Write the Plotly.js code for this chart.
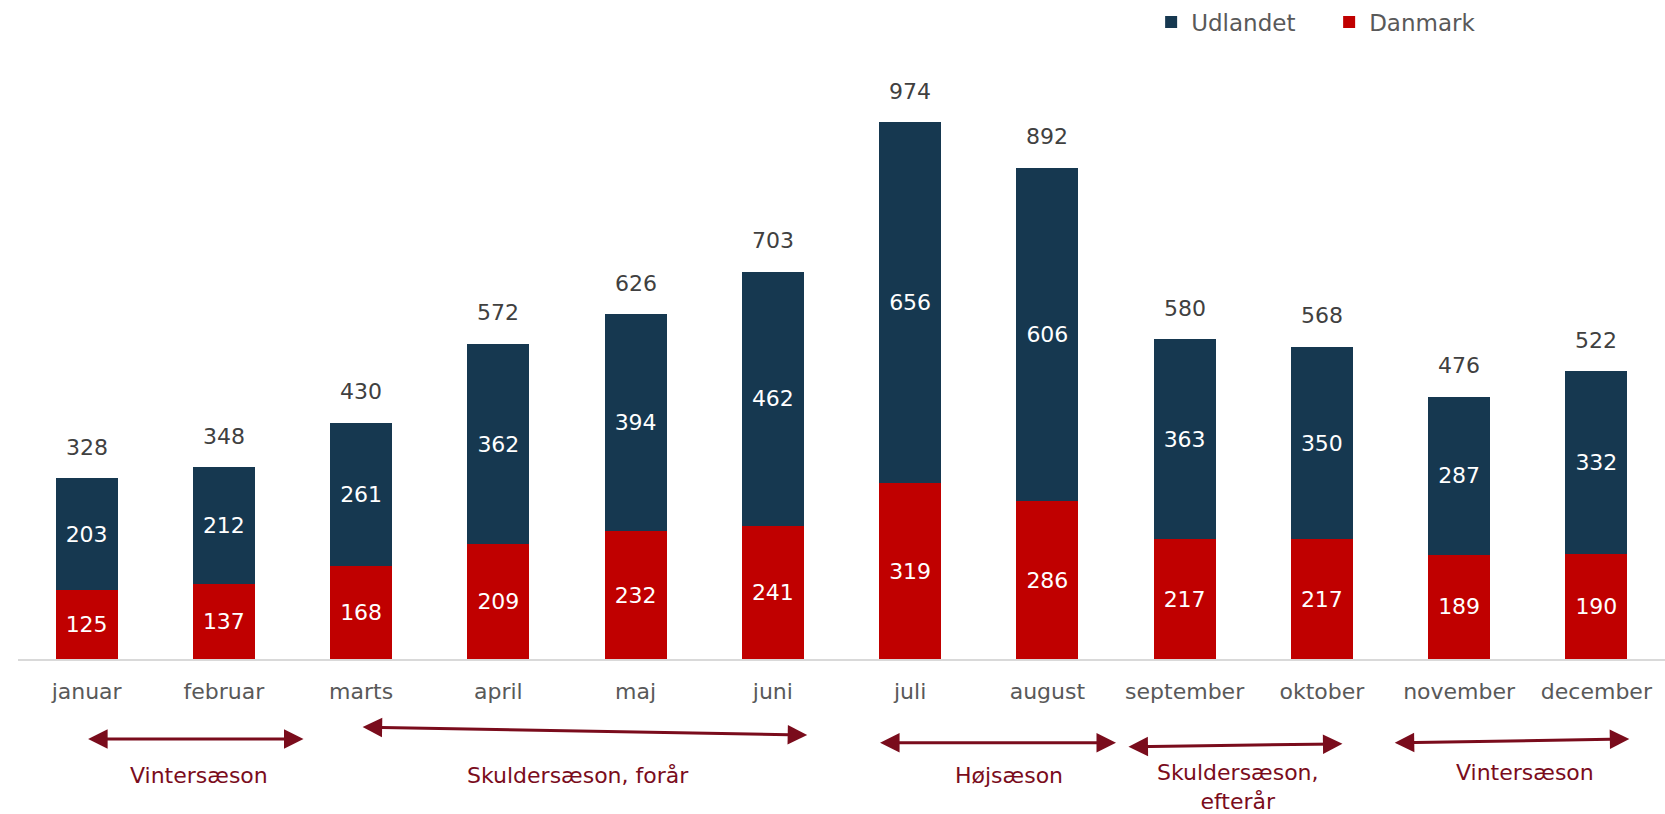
<!DOCTYPE html>
<html>
<head>
<meta charset="utf-8">
<script src="https://cdn.plot.ly/plotly-3.0.1.min.js"></script>
<style>html,body{margin:0;padding:0;background:#fff;}#chart{width:1665px;height:814px;}</style>
</head>
<body>
<div id="chart"></div>
<script>
const months = ['januar','februar','marts','april','maj','juni','juli','august','september','oktober','november','december'];
const danmark = [125,137,168,209,232,241,319,286,217,217,189,190];
const udlandet = [203,212,261,362,394,462,656,606,363,350,287,332];
const totals = [328,348,430,572,626,703,974,892,580,568,476,522];

const seasonLabels = ['Vintersæson','Skuldersæson, forår','Højsæson','Skuldersæson,<br>efterår','Vintersæson'];
const seasonStart = [0.0, 2.0, 5.77, 7.58, 9.52];
const seasonEnd = [1.58, 5.25, 7.50, 9.15, 11.24];

const FONT = 'DejaVu Sans, sans-serif';
const idx = months.map((m,i)=>i);

const traces = [
  {type:'bar', name:'Danmark', x:idx, y:danmark, text:danmark.map(String),
   textposition:'inside', insidetextanchor:'middle', textangle:0, constraintext:'none',
   textfont:{color:'#ffffff', size:22, family:FONT},
   marker:{color:'#C00000'}, hoverinfo:'skip'},
  {type:'bar', name:'Udlandet', x:idx, y:udlandet, text:udlandet.map(String),
   textposition:'inside', insidetextanchor:'middle', textangle:0, constraintext:'none',
   textfont:{color:'#ffffff', size:22, family:FONT},
   marker:{color:'#163850'}, hoverinfo:'skip'}
];

const annotations = [];
totals.forEach((t,i)=>{
  annotations.push({xref:'x', yref:'y', x:i, y:t, text:String(t), showarrow:false,
    yshift:31, font:{size:22, color:'#404040', family:FONT}});
});
const arrowY = [-0.145, -0.138, -0.152, -0.154, -0.145];
const arrowTilt = [0, -8, 0, 3, 4];
const labelX = [0.82, 3.58, 6.72, 8.39, 10.48];
const labelY = [-0.212, -0.212, -0.212, -0.233, -0.206];
seasonLabels.forEach((s,i)=>{
  annotations.push({xref:'x', yref:'paper', x:seasonEnd[i], y:arrowY[i],
    axref:'x', ax:seasonStart[i], ayref:'pixel', ay:arrowTilt[i],
    showarrow:true, arrowside:'end+start', arrowhead:2, arrowsize:1.3, arrowwidth:3,
    arrowcolor:'#7A0C1C', standoff:0, startstandoff:0, text:''});
  annotations.push({xref:'x', yref:'paper', x:labelX[i], y:labelY[i], text:s, showarrow:false,
    yanchor:'middle', font:{size:22, color:'#7A0C1C', family:FONT}});
});

const layout = {
  width:1665, height:814,
  margin:{l:18, r:0, t:108, b:155},
  paper_bgcolor:'#ffffff', plot_bgcolor:'#ffffff',
  barmode:'stack', bargap:0.548,
  font:{family:FONT, color:'#595959'},
  showlegend:true,
  legend:{orientation:'h', x:0.688, y:1.156, xanchor:'left', yanchor:'middle',
    traceorder:'reversed', font:{size:23, color:'#595959', family:FONT},
    entrywidth:133, entrywidthmode:'pixels', bgcolor:'rgba(0,0,0,0)'},
  xaxis:{tickmode:'array', tickvals:idx, ticktext:months, range:[-0.5, 11.5],
    showline:true, linecolor:'#D9D9D9', linewidth:2, ticks:'', showgrid:false, zeroline:false,
    tickfont:{size:22, color:'#595959', family:FONT}, ticklabelstandoff:12},
  yaxis:{range:[0,1000], visible:false, showgrid:false, zeroline:false},
  annotations:annotations
};
Plotly.newPlot('chart', traces, layout, {displayModeBar:false, staticPlot:true});
</script>
</body>
</html>
